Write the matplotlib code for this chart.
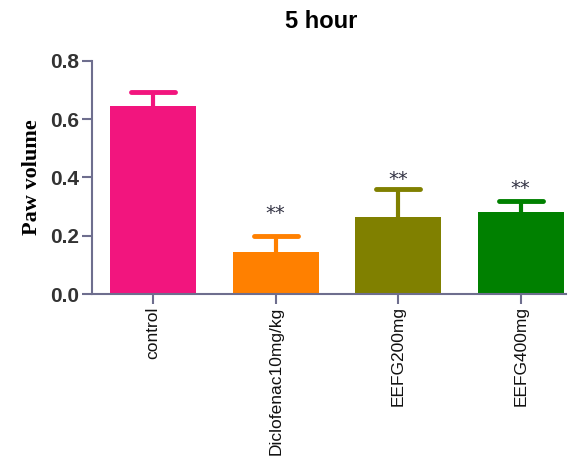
import matplotlib
matplotlib.use("Agg")
import matplotlib.pyplot as plt

categories = ["control", "Diclofenac10mg/kg", "EEFG200mg", "EEFG400mg"]
means = [0.645, 0.145, 0.265, 0.282]
errors = [0.05, 0.055, 0.094, 0.036]
signif = ["", "**", "**", "**"]
colors = ["#F2157E", "#FF8000", "#808000", "#008000"]
yticks = [0.0, 0.2, 0.4, 0.6, 0.8]
ytick_labels = ["0.0", "0.2", "0.4", "0.6", "0.8"]

fig = plt.figure(figsize=(5.74, 4.65), dpi=100)
ax = fig.add_axes([92/574, 1-294/465, (566-92)/574, (294-61)/465])

x = list(range(len(categories)))
ax.bar(x, means, width=0.7, color=colors, zorder=2)
tops = [m + e for m, e in zip(means, errors)]
cap_half = 0.18
ax.vlines(x, means, tops, colors=colors, linewidth=3, zorder=3)
ax.hlines(tops, [xi - cap_half for xi in x], [xi + cap_half for xi in x],
          colors=colors, linewidth=3.5, zorder=3, capstyle="round")
star_gaps = [0.0, 0.078, 0.033, 0.043]
for xi, t, s, g in zip(x, tops, signif, star_gaps):
    if s:
        ax.text(xi, t + g, s, ha="center", va="center",
                fontsize=14, color="#333344", family="DejaVu Sans")

ax.set_xlim(-0.5, 3.37)
ax.set_ylim(0, 0.8)
ax.set_yticks(yticks)
ax.set_yticklabels(ytick_labels, fontsize=15, fontweight="bold",
                   family="Liberation Sans", color="#333333")
ax.set_xticks(x)
ax.set_xticklabels(categories, rotation=90, fontsize=12.5,
                   family="Liberation Sans", color="#111111")

spine_color = "#6E6E8E"
for side in ["top", "right"]:
    ax.spines[side].set_visible(False)
for side in ["left", "bottom"]:
    ax.spines[side].set_color(spine_color)
    ax.spines[side].set_linewidth(1.5)
ax.tick_params(axis="both", color=spine_color, width=1.5, length=7)
ax.tick_params(axis="y", pad=2)
ax.tick_params(axis="x", pad=2)

ax.set_ylabel("Paw volume", fontsize=16, fontweight="bold",
              family="Liberation Serif", labelpad=6)
fig.text(321/574, 1-22/465, "5 hour", ha="center", va="center",
         fontsize=17, fontweight="bold", family="Liberation Sans")

fig.savefig("out.png", dpi=100)
